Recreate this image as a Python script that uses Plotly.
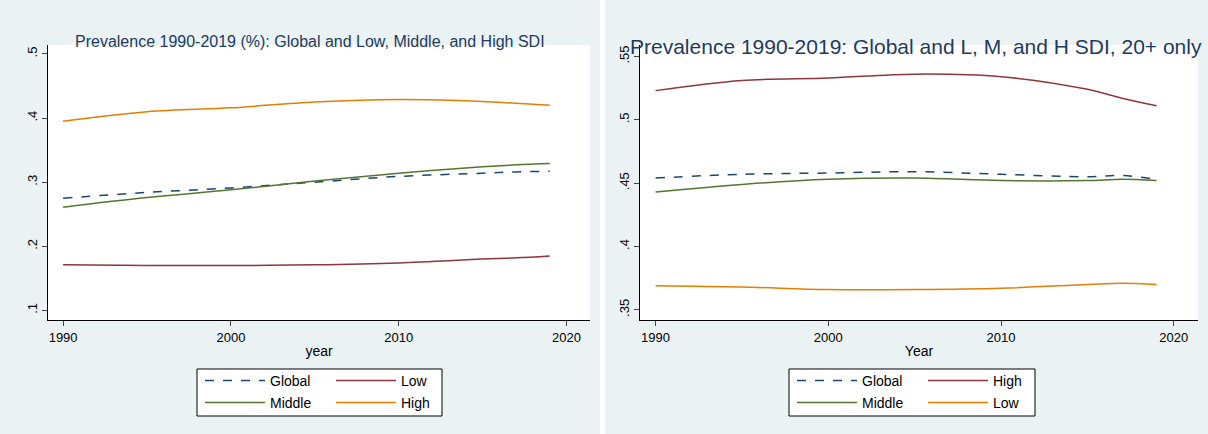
import plotly.graph_objects as go

years = [1990, 1995, 2000, 2005, 2010, 2015, 2017, 2019]

# left panel: all ages
l_global = [.275, .284, .291, .300, .309, .314, .316, .317]
l_middle = [.261, .276, .288, .302, .314, .324, .327, .329]
l_high = [.395, .410, .416, .425, .429, .426, .423, .420]
l_low = [.171, .170, .170, .171, .174, .180, .182, .185]

# right panel: 20+ only
r_high = [.523, .531, .533, .536, .534, .524, .517, .511]
r_global = [.454, .457, .458, .459, .457, .455, .456, .453]
r_middle = [.443, .449, .453, .454, .452, .452, .453, .452]
r_low = [.369, .368, .366, .366, .367, .370, .371, .370]

NAVY, MAROON, GREEN, ORANGE = "#1A476F", "#90353B", "#55752F", "#E37E00"
W, H = 1208, 434
BG = "#EAF2F3"

fig = go.Figure()

def add(x, y, name, color, xa, ya, leg, dash="solid"):
    fig.add_trace(go.Scatter(x=x, y=y, name=name, mode="lines", xaxis=xa, yaxis=ya,
                             legend=leg, line=dict(color=color, width=1.5, dash=dash, shape="spline")))

add(years, l_global, "Global", NAVY, "x", "y", "legend", "dash")
add(years, l_low, "Low", MAROON, "x", "y", "legend")
add(years, l_middle, "Middle", GREEN, "x", "y", "legend2")
add(years, l_high, "High", ORANGE, "x", "y", "legend2")

add(years, r_global, "Global", NAVY, "x2", "y2", "legend3", "dash")
add(years, r_high, "High", MAROON, "x2", "y2", "legend3")
add(years, r_middle, "Middle", GREEN, "x2", "y2", "legend4")
add(years, r_low, "Low", ORANGE, "x2", "y2", "legend4")

ax = dict(showline=True, linecolor="black", linewidth=1, ticks="outside", ticklen=5,
          showgrid=False, zeroline=False, tickfont=dict(size=13, color="black"))
yd = [1 - 320 / H, 1 - 45 / H]

def leg(xpx, ypx):
    return dict(orientation="h", x=xpx / W, xanchor="left", y=1 - ypx / H, yanchor="middle",
                bgcolor="rgba(0,0,0,0)", borderwidth=0, entrywidth=56, entrywidthmode="pixels",
                font=dict(size=14), itemwidth=60)

def box(x0, x1):
    return dict(type="rect", xref="paper", yref="paper", x0=x0 / W, x1=x1 / W,
                y0=1 - 416 / H, y1=1 - 369 / H, fillcolor="white",
                line=dict(color="black", width=1), layer="below")

fig.update_layout(
    width=W, height=H, margin=dict(l=0, r=0, t=0, b=0, autoexpand=False),
    paper_bgcolor="white", plot_bgcolor="white",
    font=dict(family="Liberation Sans, Arial", color="black"),
    xaxis=dict(ax, domain=[48 / W, 590 / W], range=[1989.1, 2021.4],
               tickvals=[1990, 2000, 2010, 2020],
               title=dict(text="year", font=dict(size=14), standoff=2)),
    yaxis=dict(ax, domain=yd, range=[0.085, 0.514], tickvals=[.1, .2, .3, .4, .5],
               ticktext=[".1", ".2", ".3", ".4", ".5"], tickangle=-90),
    xaxis2=dict(ax, domain=[640 / W, 1198 / W], range=[1989.1, 2021.4],
                tickvals=[1990, 2000, 2010, 2020], anchor="y2",
                title=dict(text="Year", font=dict(size=14), standoff=2)),
    yaxis2=dict(ax, domain=yd, range=[0.342, 0.559], anchor="x2",
                tickvals=[.35, .4, .45, .5, .55],
                ticktext=[".35", ".4", ".45", ".5", ".55"], tickangle=-90),
    legend=leg(200, 381), legend2=leg(200, 403),
    legend3=leg(792, 381), legend4=leg(792, 403),
    shapes=[
        dict(type="rect", xref="paper", yref="paper", x0=0, x1=600 / W, y0=0, y1=1,
             fillcolor=BG, line=dict(width=0), layer="below"),
        dict(type="rect", xref="paper", yref="paper", x0=605 / W, x1=1, y0=0, y1=1,
             fillcolor=BG, line=dict(width=0), layer="below"),
        dict(type="rect", xref="paper", yref="paper", x0=48 / W, x1=590 / W, y0=yd[0], y1=yd[1],
             fillcolor="white", line=dict(width=0), layer="below"),
        dict(type="rect", xref="paper", yref="paper", x0=640 / W, x1=1198 / W, y0=yd[0], y1=yd[1],
             fillcolor="white", line=dict(width=0), layer="below"),
        box(197, 442), box(789, 1035),
    ],
    annotations=[
        dict(text="Prevalence 1990-2019 (%): Global and Low, Middle, and High SDI", xref="paper",
             yref="paper", x=310 / W, xanchor="center", y=1 - 31 / H, showarrow=False,
             font=dict(size=16, color="#1E3A5F")),
        dict(text="Prevalence 1990-2019: Global and L, M, and H SDI, 20+ only", xref="paper",
             yref="paper", x=628 / W, xanchor="left", y=1 - 33 / H, showarrow=False,
             font=dict(size=21, color="#1E3A5F")),
    ],
)

fig.write_html("out.html", config={"displayModeBar": False},
               post_script="document.body.style.margin='0';")
